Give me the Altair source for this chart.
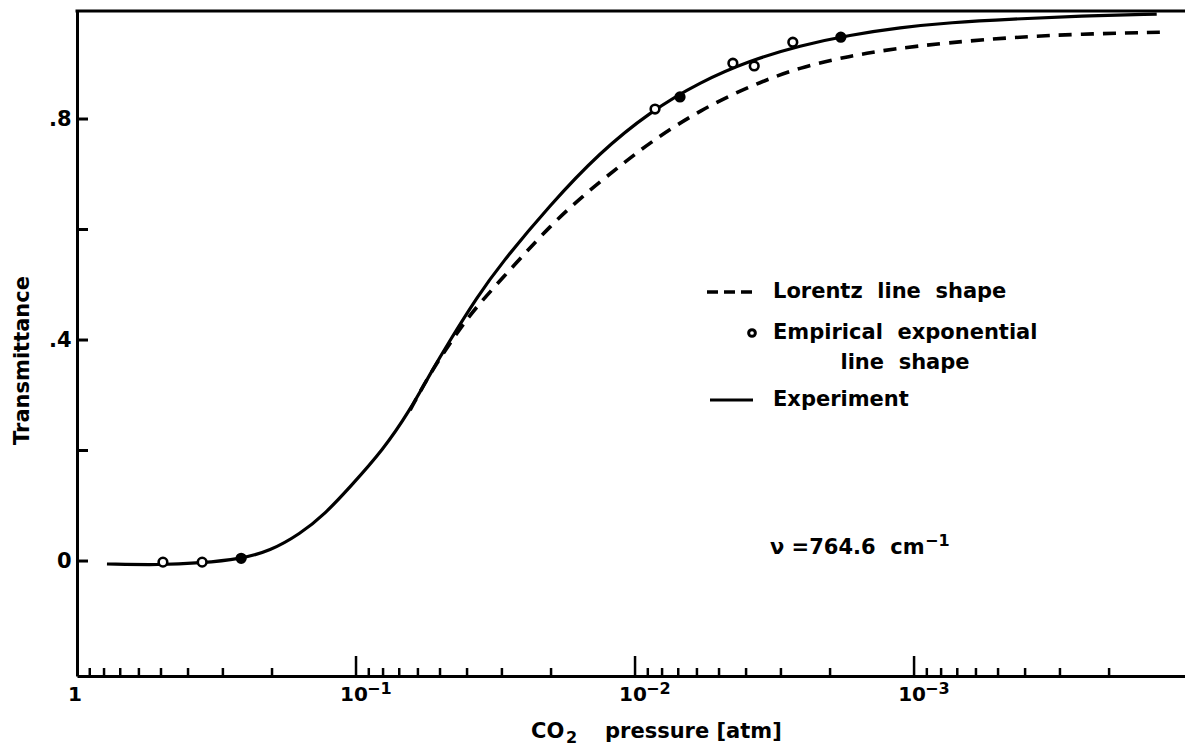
import altair as alt
import pandas as pd

# ---------------- data ----------------
# Experiment (solid curve): CO2 pressure [atm], transmittance
exp_p = [0.781, 0.504, 0.362, 0.260, 0.2033, 0.1587, 0.1292, 0.1051, 0.0800, 0.0640,
         0.0543, 0.0460, 0.0368, 0.0305, 0.0202, 0.01335, 0.00884, 0.00585, 0.00387,
         0.00256, 0.00170, 0.00112, 0.000743, 0.000442, 0.000254, 0.000135]
exp_t = [-0.0054, -0.0072, -0.0036, 0.0036, 0.0181, 0.0489, 0.0851, 0.1339, 0.2009, 0.2733,
         0.3385, 0.4000, 0.4778, 0.5357, 0.6443, 0.7400, 0.8130, 0.8670, 0.9060,
         0.9330, 0.9520, 0.9656, 0.9747, 0.9810, 0.9864, 0.9900]

# Lorentz line shape (dashed curve)
lor_p = [0.064, 0.0543, 0.0435, 0.0374, 0.0265, 0.0202, 0.0154, 0.0116, 0.00861,
         0.00585, 0.00387, 0.00256, 0.00170, 0.00119, 0.000762, 0.000442, 0.000254, 0.000131]
lor_t = [0.273, 0.340, 0.413, 0.458, 0.541, 0.606, 0.661, 0.711, 0.762,
         0.816, 0.860, 0.894, 0.914, 0.927, 0.938, 0.948, 0.954, 0.957]

# Empirical exponential line shape (circles)
emp_p = [0.492, 0.356, 0.258, 0.00848, 0.00690, 0.00446, 0.00374, 0.00272, 0.00183]
emp_t = [-0.002, -0.002, 0.005, 0.818, 0.840, 0.901, 0.896, 0.939, 0.948]
emp_style = ["open", "open", "filled", "open", "filled", "open", "open", "open", "filled"]

# axis ticks and labels
x_label_values = [1, 0.1, 0.01, 0.001]
x_label_base = ["1", "10", "10", "10"]
x_label_exp = ["", "\u22121", "\u22122", "\u22123"]
x_major_ticks = [0.1, 0.01, 0.001]
x_minor_mantissas = [2, 3, 4, 5, 6, 7, 8, 9]
x_minor_decades = [0.1, 0.01, 0.001, 0.0001]
x_minor_ticks = [m * d for d in x_minor_decades for m in x_minor_mantissas]
y_tick_values = [0, 0.2, 0.4, 0.6, 0.8]
y_label_values = [0, 0.4, 0.8]
y_label_texts = ["0", ".4", ".8"]

x_title_parts = ["CO", "2", "pressure [atm]"]
y_title = "Transmittance"
legend_texts = ["Lorentz\u00a0 line\u00a0 shape", "Empirical\u00a0 exponential",
                "line\u00a0 shape", "Experiment"]
note_parts = ["\u03bd =764.6\u00a0 cm", "\u22121"]

# ---------------- layout ----------------
W, H = 1108, 665
FONT = "DejaVu Sans"
FS = 21
X_DOMAIN = [1.069e-4, 1.0]
Y_DOMAIN = [-0.2081, 0.9955]

xscale = alt.Scale(type="log", domain=X_DOMAIN, reverse=True)
yscale = alt.Scale(domain=Y_DOMAIN, zero=False, nice=False)


def label_expr(values, texts):
    expr = "''"
    for v, t in reversed(list(zip(values, texts))):
        tol = abs(v) * 1e-3 + 1e-9
        expr = f"abs(datum.value - {v}) < {tol} ? '{t}' : ({expr})"
    return expr


exp_df = pd.DataFrame({"p": exp_p, "t": exp_t})
lor_df = pd.DataFrame({"p": lor_p, "t": lor_t})
emp_df = pd.DataFrame({"p": emp_p, "t": emp_t, "style": emp_style})
xminor_df = pd.DataFrame({"p": x_minor_ticks})
xmajor_df = pd.DataFrame({"p": x_major_ticks})
xlab_df = pd.DataFrame({"p": x_label_values, "base": x_label_base, "exp": x_label_exp})
ytick_df = pd.DataFrame({"t": y_tick_values})
one = pd.DataFrame({"k": [0]})

x_axis = alt.Axis(
    values=x_label_values, labels=False, ticks=False, tickSize=0, grid=False,
    domainColor="black", domainWidth=3, title="",
)
y_axis = alt.Axis(
    values=y_label_values, labelExpr=label_expr(y_label_values, y_label_texts),
    ticks=False, tickSize=0, grid=False, domainColor="black", domainWidth=3,
    labelFont=FONT, labelFontSize=FS, labelFontWeight="bold", labelColor="black",
    labelPadding=6, labelFlush=False, labelOverlap=False,
    title=y_title, titleFont=FONT, titleFontSize=FS, titleFontWeight="bold",
    titleColor="black", titleX=-55, titleY=349, titleAngle=270,
    titleAlign="center", titleBaseline="middle",
)

X = lambda: alt.X("p:Q", scale=xscale, axis=x_axis)
Y = lambda: alt.Y("t:Q", scale=yscale, axis=y_axis)

experiment = alt.Chart(exp_df).mark_line(
    color="black", strokeWidth=3.2, interpolate="basis"
).encode(x=X(), y=Y())

lorentz = alt.Chart(lor_df).mark_line(
    color="black", strokeWidth=3.6, strokeDash=[13, 9], interpolate="basis"
).encode(x=X(), y=Y())

empirical = alt.Chart(emp_df).mark_point(
    shape="circle", size=75, stroke="black", strokeWidth=2.6, opacity=1
).encode(
    x=X(), y=Y(),
    fill=alt.Fill("style:N", scale=alt.Scale(domain=["open", "filled"],
                                             range=["white", "black"]), legend=None),
)

minor_ticks = alt.Chart(xminor_df).mark_rule(color="black", strokeWidth=2.5).encode(
    x=X(), y=alt.value(H), y2=alt.value(H - 8),
)
major_ticks = alt.Chart(xmajor_df).mark_rule(color="black", strokeWidth=2.5).encode(
    x=X(), y=alt.value(H), y2=alt.value(H - 20),
)
y_ticks = alt.Chart(ytick_df).mark_rule(color="black", strokeWidth=3).encode(
    y=Y(), x=alt.value(0), x2=alt.value(11),
)
top_border = alt.Chart(one).mark_rule(color="black", strokeWidth=3).encode(
    x=alt.value(-1.5), x2=alt.value(W), y=alt.value(0)
)

# x tick labels: base plus raised exponent
xlab_base = alt.Chart(xlab_df).mark_text(
    font=FONT, fontSize=20, fontWeight="bold", color="black",
    align="center", baseline="alphabetic", dx=-2
).encode(x=X(), y=alt.value(H + 25), text="base:N")
xlab_exp = alt.Chart(xlab_df).mark_text(
    font=FONT, fontSize=16, fontWeight="bold", color="black",
    align="left", baseline="alphabetic", dx=11
).encode(x=X(), y=alt.value(H + 18), text="exp:N")


# ---------------- hand-drawn texts and legend ----------------
def txt(text, x, y, align="left", size=FS, baseline="middle"):
    return alt.Chart(one).mark_text(
        font=FONT, fontSize=size, fontWeight="bold", color="black",
        align=align, baseline=baseline
    ).encode(x=alt.value(x), y=alt.value(y), text=alt.value(text))


leg_dash = alt.Chart(one).mark_rule(color="black", strokeWidth=3.6, strokeDash=[11, 6]).encode(
    x=alt.value(630), x2=alt.value(678), y=alt.value(281)
)
leg_circle = alt.Chart(one).mark_point(
    shape="circle", size=45, stroke="black", strokeWidth=3, fill="white", opacity=1
).encode(x=alt.value(675), y=alt.value(322))
leg_solid = alt.Chart(one).mark_rule(color="black", strokeWidth=3).encode(
    x=alt.value(633), x2=alt.value(676), y=alt.value(389)
)

chart = alt.layer(
    experiment, lorentz, empirical, minor_ticks, major_ticks, y_ticks, top_border,
    xlab_base, xlab_exp,
    leg_dash, leg_circle, leg_solid,
    txt(legend_texts[0], 696, 281),
    txt(legend_texts[1], 696, 322),
    txt(legend_texts[2], 828, 352, align="center"),
    txt(legend_texts[3], 696, 389),
    txt(note_parts[0], 693, 543, baseline="alphabetic"),
    txt(note_parts[1], 848, 535, size=16, baseline="alphabetic"),
    txt(x_title_parts[0], 454, 727, baseline="alphabetic"),
    txt(x_title_parts[1], 489, 732, size=16, baseline="alphabetic"),
    txt(x_title_parts[2], 528, 727, baseline="alphabetic"),
).properties(
    width=W, height=H,
    autosize=alt.AutoSizeParams(type="none"),
    padding={"left": 77, "top": 11, "right": 0, "bottom": 73},
    background="white",
).configure_view(stroke=None)

chart.save("out.html", embed_options={"renderer": "svg", "actions": False})
